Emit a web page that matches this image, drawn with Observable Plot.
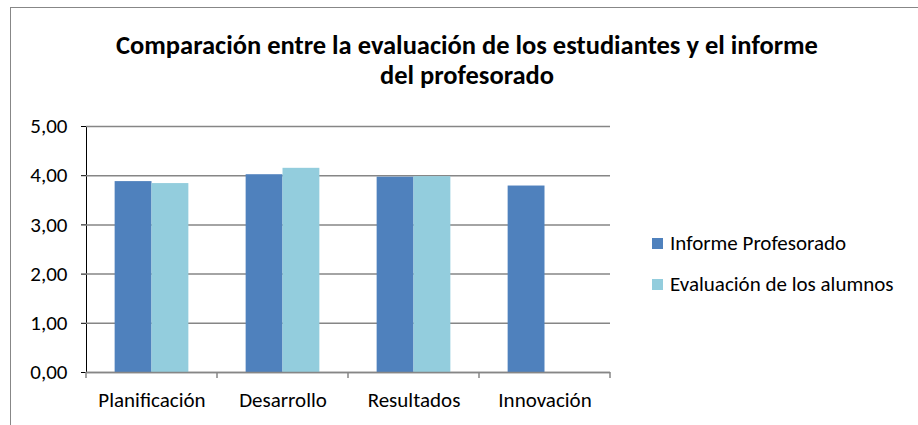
<!DOCTYPE html>
<html>
<head>
<meta charset="utf-8">
<script src="https://cdn.jsdelivr.net/npm/d3@7"></script>
<script src="https://cdn.jsdelivr.net/npm/@observablehq/plot@0.6"></script>
<style>
  html, body { margin: 0; padding: 0; background: #fff; }
  #wrap { position: relative; width: 918px; height: 425px; overflow: hidden; font-family: Carlito, Calibri, Lato, "Open Sans", sans-serif; color: #000; }
  #frame { position: absolute; left: 10px; top: 7px; width: 930px; height: 440px; border-left: 1.5px solid #878787; border-top: 1.5px solid #878787; box-sizing: border-box; }
  #title { position: absolute; left: 67px; width: 800px; top: 30px; text-align: center; font-weight: bold; font-size: 26.5px; line-height: 30px; }
  #title div { height: 30px; }
  #legend { position: absolute; left: 652px; top: 231px; font-size: 21px; }
  .item { display: flex; align-items: center; height: 24px; margin-bottom: 17px; white-space: nowrap; }
  .sw { width: 11px; height: 11px; margin-right: 7px; flex: none; }
  #chart { position: absolute; left: 0; top: 0; }
  #chart svg text { font-size: 21px; fill: #000; }
  #chart [aria-label="y-axis"] line, #chart [aria-label="y-axis"] path { stroke: #868686; stroke-width: 1.5; }
</style>
</head>
<body>
<div id="wrap">
  <div id="frame"></div>
  <div id="chart"></div>
  <div id="title"></div>
  <div id="legend"></div>
</div>
<script>
const titleLines = ["Comparación entre la evaluación de los estudiantes y el informe", "del profesorado"];
const categories = ["Planificación", "Desarrollo", "Resultados", "Innovación"];
const series = ["Informe Profesorado", "Evaluación de los alumnos"];
const informeProfesorado = [3.88, 4.02, 3.97, 3.79];
const evaluacionAlumnos = [3.84, 4.15, 3.98, null];
const yTicks = [0, 1, 2, 3, 4, 5];
const colors = ["#4F81BD", "#93CDDD"];

const seriesValues = [informeProfesorado, evaluacionAlumnos];
const data = [];
categories.forEach((c, i) => {
  series.forEach((s, j) => {
    const v = seriesValues[j][i];
    if (v != null) data.push({cat: c, serie: s, value: v});
  });
});

const title = document.getElementById("title");
titleLines.forEach(t => {
  const d = document.createElement("div");
  d.textContent = t;
  title.appendChild(d);
});
const legend = document.getElementById("legend");
series.forEach((s, i) => {
  const it = document.createElement("div");
  it.className = "item";
  it.innerHTML = `<div class="sw" style="background:${colors[i]}"></div><span>${s}</span>`;
  legend.appendChild(it);
});

const grid = "#868686";
const plot = Plot.plot({
  width: 918,
  height: 425,
  marginLeft: 85,
  marginRight: 307,
  marginTop: 126,
  marginBottom: 53,
  style: {fontFamily: 'Carlito, Calibri, Lato, "Open Sans", sans-serif', fontSize: "21px", color: "#000", background: "transparent"},
  facet: {data, x: "cat"},
  fx: {domain: categories, padding: 0, label: null, tickSize: 0, tickPadding: 20, axis: "bottom"},
  x: {domain: series, paddingInner: 0, paddingOuter: 0.777, round: false, axis: null},
  y: {domain: [0, 5], ticks: yTicks, tickFormat: d => d.toFixed(2).replace(".", ","), tickSize: 5, tickPadding: 14, label: null, line: true},
  color: {domain: series, range: colors},
  marks: [
    Plot.ruleY(yTicks, {stroke: grid, strokeWidth: 1.5}),
    Plot.barY(data, {x: "serie", y: "value", fill: "serie"}),
    Plot.ruleY([0], {stroke: grid, strokeWidth: 1.5})
  ]
});
document.getElementById("chart").appendChild(plot);

// boundary ticks on the category axis, from the library's fx and y scales
const fx = plot.scale("fx");
const ys = plot.scale("y");
const y0 = ys.apply(0);
const bounds = categories.map(c => fx.apply(c));
bounds.push(fx.apply(categories[categories.length - 1]) + fx.bandwidth);
d3.select(plot).append("g")
  .selectAll("line").data(bounds).join("line")
  .attr("x1", d => d).attr("x2", d => d)
  .attr("y1", y0).attr("y2", y0 + 6)
  .attr("stroke", grid).attr("stroke-width", 1.5);
</script>
</body>
</html>
